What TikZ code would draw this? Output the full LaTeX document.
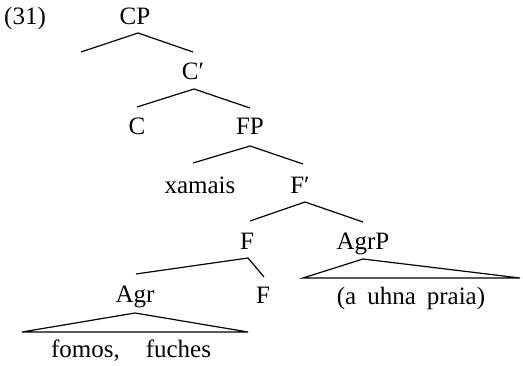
\documentclass[tikz,border=0pt]{standalone}
\usepackage{fontspec}
\setmainfont{Liberation Serif}
\begin{document}
\begin{tikzpicture}[x=1pt,y=-1pt,
  lbl/.style={anchor=base,inner sep=0pt,font=\fontsize{25}{30}\selectfont},
  branch/.style={line width=1.2pt,line join=miter}]
\useasboundingbox (0,0) rectangle (523,366);

% labels
\node[lbl,anchor=base west] (ex) at (4,25) {(31)};
\node[lbl] (CP)   at (135,25)  {CP};
\node[lbl] (Cbar) at (193,80)  {C′};
\node[lbl] (C)    at (137,135) {C};
\node[lbl] (FP)   at (250,135) {FP};
\node[lbl] (xam)  at (200,194) {xamais};
\node[lbl] (Fbar) at (300,194) {F′};
\node[lbl] (F1)   at (247,250) {F};
\node[lbl] (AgrP) at (363,250) {AgrP};
\node[lbl] (Agr)  at (135,303) {Agr};
\node[lbl] (F2)   at (263,304) {F};
\node[lbl] (pp)   at (411,305) {(a\hspace{11pt}uhna\hspace{11pt}praia)};
\node[lbl] (vv)   at (131,358) {fomos,\hspace{26pt}fuches};

% branch points
\coordinate (cp-t) at (138,33);  \coordinate (cp-l) at (81,52);   \coordinate (cp-r) at (193,52);
\coordinate (cb-t) at (194,89);  \coordinate (cb-l) at (137,107); \coordinate (cb-r) at (250,108);
\coordinate (fp-t) at (250,146); \coordinate (fp-l) at (193,163); \coordinate (fp-r) at (303,164);
\coordinate (fb-t) at (305,202); \coordinate (fb-l) at (250,221); \coordinate (fb-r) at (363,222);
\coordinate (f1-t) at (248,258); \coordinate (f1-l) at (136,274); \coordinate (f1-r) at (264,277);
\coordinate (ap-t) at (363,259); \coordinate (ap-l) at (303,278); \coordinate (ap-r) at (520,278);
\coordinate (ag-t) at (135,313); \coordinate (ag-l) at (22,332);  \coordinate (ag-r) at (248,332);

% branches
\draw[branch] (cp-l) -- (cp-t) -- (cp-r);
\draw[branch] (cb-l) -- (cb-t) -- (cb-r);
\draw[branch] (fp-l) -- (fp-t) -- (fp-r);
\draw[branch] (fb-l) -- (fb-t) -- (fb-r);
\draw[branch] (f1-l) -- (f1-t) -- (f1-r);

% triangles
\draw[branch] (ap-l) -- (ap-t) -- (ap-r) -- cycle;
\draw[branch] (ag-l) -- (ag-t) -- (ag-r) -- cycle;
\end{tikzpicture}
\end{document}
